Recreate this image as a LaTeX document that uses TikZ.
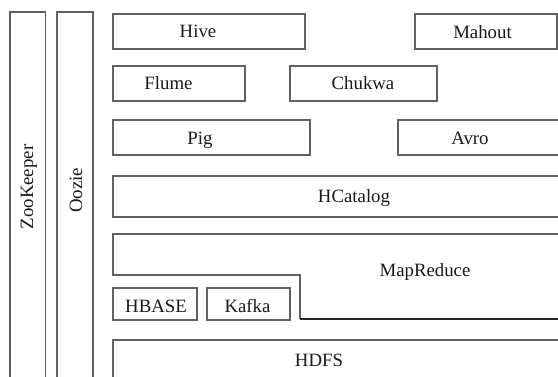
\documentclass[tikz,border=0pt]{standalone}
\usepackage{fontspec}
\setmainfont{Liberation Serif}
\begin{document}
\begin{tikzpicture}[x=1pt,y=-1pt,
  box/.style={draw=black!62, line width=1.2pt},
  lbl/.style={inner sep=0pt, anchor=base, font=\fontsize{18.8}{20}\selectfont, text=black!90}]
\useasboundingbox (0,0) rectangle (558,376);
\clip (0,0) rectangle (558,376);
% vertical bars
\draw[box] (10,390) -- (10,12) -- (45.5,12) -- (45.5,390);
\draw[box] (57,390) -- (57,12) -- (93,12) -- (93,390);
\node[lbl, rotate=90] (zk) at (33,187) {ZooKeeper};
\node[lbl, rotate=90] (oz) at (82,190.5) {Oozie};
% top boxes
\draw[box] (113,14) rectangle (305,49);
\node[lbl] (hive) at (198,37.5) {Hive};
\draw[box] (415,14) rectangle (557,49);
\node[lbl] (mahout) at (482.5,38) {Mahout};
\draw[box] (113,66) rectangle (245,101);
\node[lbl] (flume) at (168.5,89.5) {Flume};
\draw[box] (290,66) rectangle (437,101);
\node[lbl] (chukwa) at (363,89.5) {Chukwa};
\draw[box] (113,120) rectangle (310,155);
\node[lbl] (pig) at (200,144) {Pig};
\draw[box] (398,120) rectangle (570,155);
\node[lbl] (avro) at (470,144) {Avro};
\draw[box] (113,176) rectangle (570,217);
\node[lbl] (hcat) at (354,202) {HCatalog};
% MapReduce
\draw[box] (570,234) -- (113,234) -- (113,275) -- (300,275) -- (300,319);
\draw[draw=black!85, line width=1.2pt] (300,319) -- (570,319);
\node[lbl] (mr) at (425,276.5) {MapReduce};
\draw[box] (113,288) rectangle (197,320);
\node[lbl] (hbase) at (156,312) {HBASE};
\draw[box] (207,288) rectangle (290,320);
\node[lbl] (kafka) at (247.5,312) {Kafka};
% HDFS
\draw[box] (570,340) -- (113,340) -- (113,390);
\node[lbl] (hdfs) at (319,366) {HDFS};
\end{tikzpicture}
\end{document}
